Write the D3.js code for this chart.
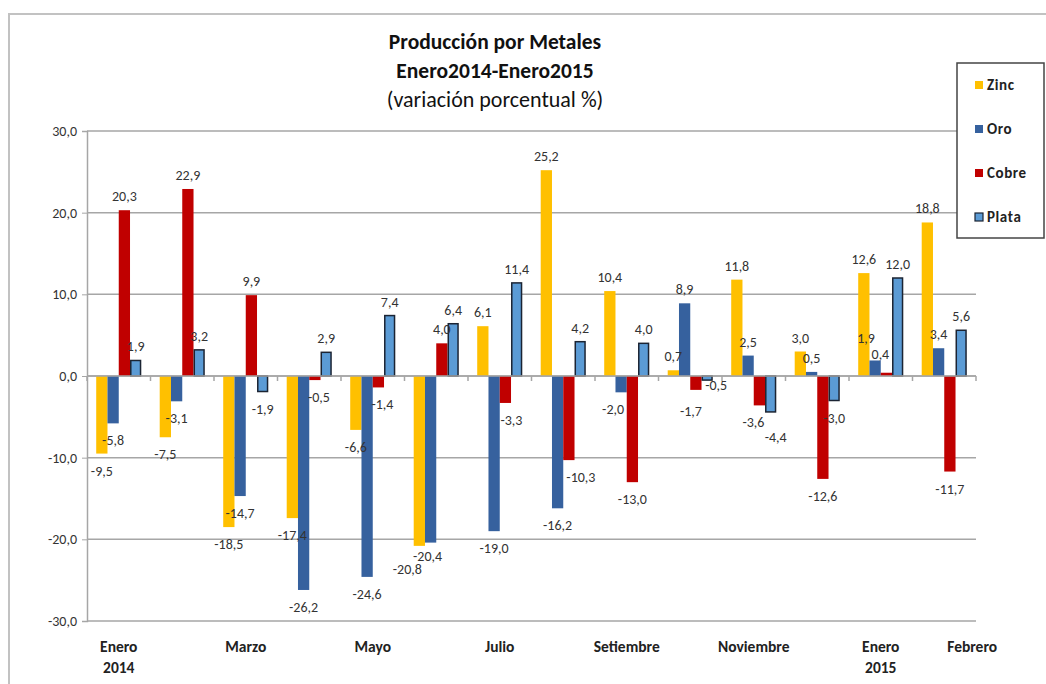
<!DOCTYPE html>
<html lang="es">
<head>
<meta charset="UTF-8">
<title>Producción por Metales</title>
<script src="https://d3js.org/d3.v7.min.js"></script>
<style>
  body { margin: 0; background: #fff; }
  svg { display: block; font-family: Carlito, Lato, 'Open Sans', sans-serif; }
</style>
</head>
<body>
<svg id="chart" width="1046" height="684"></svg>
<script>
// months, Enero 2014 .. Febrero 2015
var months = ["Ene14", "Feb14", "Mar14", "Abr14", "May14", "Jun14", "Jul14",
              "Ago14", "Set14", "Oct14", "Nov14", "Dic14", "Ene15", "Feb15"];
var monthLabels = ["Enero|2014", "", "Marzo", "", "Mayo", "", "Julio",
                   "", "Setiembre", "", "Noviembre", "", "Enero|2015", "Febrero"];
var metals = ["Zinc", "Oro", "Cobre", "Plata"];
var zinc  = [-9.5, -7.5, -18.5, -17.4, -6.6, -20.8, 6.1, 25.2, 10.4, 0.7, 11.8, 3.0, 12.6, 18.8];
var oro   = [-5.8, -3.1, -14.7, -26.2, -24.6, -20.4, -19.0, -16.2, -2.0, 8.9, 2.5, 0.5, 1.9, 3.4];
var cobre = [20.3, 22.9, 9.9, -0.5, -1.4, 4.0, -3.3, -10.3, -13.0, -1.7, -3.6, -12.6, 0.4, -11.7];
var plata = [1.9, 3.2, -1.9, 2.9, 7.4, 6.4, 11.4, 4.2, 4.0, -0.5, -4.4, -3.0, 12.0, 5.6];
var yTicks = [-30, -20, -10, 0, 10, 20, 30];

var series = { Zinc: zinc, Oro: oro, Cobre: cobre, Plata: plata };
var colors = { Zinc: "#FFC000", Oro: "#36619E", Cobre: "#C00000", Plata: "#5B9BD5" };

// a few labels were moved by hand in the original so they don't collide
var nudge = {
  "Jun14|Zinc": [-12, 6], "Jun14|Oro": [-3, -4],
  "Oct14|Cobre": [-5, 4], "Oct14|Plata": [9, -12],
  "Nov14|Cobre": [-6, 0], "Nov14|Plata": [5, 8],
  "Set14|Oro": [-8, 0], "Abr14|Cobre": [4, 0], "May14|Cobre": [4, 0],
  "Jul14|Cobre": [6, 0], "Ago14|Cobre": [12, 0],
  "Ene15|Oro": [-9, -8], "Ene15|Cobre": [-6, -5]
};

var loc = d3.formatLocale({ decimal: ",", thousands: ".", grouping: [3], currency: ["", ""], minus: "-" });
var fmt = loc.format(".1f");

var svg = d3.select("#chart");

// outer frame
svg.append("rect").attr("x", 9).attr("y", 14).attr("width", 1100).attr("height", 700)
  .attr("fill", "none").attr("stroke", "#c2c2c2").attr("stroke-width", 2);

var x0 = d3.scaleBand().domain(months).range([87, 976]).paddingInner(0.29).paddingOuter(0.145);
var x1 = d3.scaleBand().domain(metals).range([0, x0.bandwidth()]);
var y = d3.scaleLinear().domain([-30, 30]).range([621, 131]);

// gridlines
svg.append("g").selectAll("line").data(yTicks).join("line")
  .attr("x1", 87).attr("x2", 976)
  .attr("y1", d => y(d)).attr("y2", d => y(d))
  .attr("stroke", "#a6a6a6").attr("stroke-width", 1.5);

// y axis
var yAxis = d3.axisLeft(y).tickValues(yTicks).tickSize(5).tickFormat(fmt);
var gy = svg.append("g").attr("transform", "translate(87,0)").call(yAxis);
gy.select(".domain").attr("stroke", "#a6a6a6").attr("stroke-width", 1.5);
gy.selectAll(".tick line").attr("stroke", "#a6a6a6");
gy.selectAll(".tick text").attr("font-size", 14).attr("fill", "#333").attr("dx", -2)
  .style("font-family", "Carlito, Lato, sans-serif");

// x ticks at group boundaries on zero line
var bounds = d3.range(months.length + 1).map(i => 87 + i * x0.step());
svg.append("g").selectAll("line").data(bounds).join("line")
  .attr("x1", d => d).attr("x2", d => d)
  .attr("y1", y(0)).attr("y2", y(0) + 5)
  .attr("stroke", "#a6a6a6").attr("stroke-width", 1.5);

// bars
var rows = [];
months.forEach(function (m, i) {
  metals.forEach(function (k) { rows.push({ m: m, k: k, v: series[k][i] }); });
});

svg.append("g").selectAll("rect").data(rows).join("rect")
  .attr("x", d => x0(d.m) + x1(d.k) + (d.k === "Plata" ? 0.75 : 0))
  .attr("width", d => x1.bandwidth() - (d.k === "Plata" ? 1.5 : 0))
  .attr("y", d => y(Math.max(0, d.v)))
  .attr("height", d => Math.abs(y(d.v) - y(0)))
  .attr("fill", d => colors[d.k])
  .attr("stroke", d => d.k === "Plata" ? "#1b2433" : "none")
  .attr("stroke-width", 1.5);

// zero line on top
svg.append("line").attr("x1", 87).attr("x2", 976).attr("y1", y(0)).attr("y2", y(0))
  .attr("stroke", "#a6a6a6").attr("stroke-width", 1.5);

// data labels
function off(d, j) { var n = nudge[d.m + "|" + d.k]; return n ? n[j] : 0; }
svg.append("g").selectAll("text").data(rows).join("text")
  .attr("x", d => x0(d.m) + x1(d.k) + x1.bandwidth() / 2 + off(d, 0))
  .attr("y", d => (d.v >= 0 ? y(d.v) - 9 : y(d.v) + 22) + off(d, 1))
  .attr("text-anchor", "middle")
  .attr("font-size", 14).attr("fill", "#333")
  .text(d => fmt(d.v));

// category labels
var cat = svg.append("g").attr("font-size", 15.5).attr("font-weight", "bold").attr("fill", "#222")
  .attr("text-anchor", "middle");
monthLabels.forEach(function (lab, i) {
  if (!lab) return;
  var cx = x0(months[i]) + x0.bandwidth() / 2;
  if (i === months.length - 1) cx += x0.step() * 0.44;
  lab.split("|").forEach(function (line, j) {
    cat.append("text").attr("x", cx).attr("y", 652 + j * 21).text(line);
  });
});

// title
var title = svg.append("g").attr("text-anchor", "middle").attr("fill", "#111");
title.append("text").attr("x", 495).attr("y", 49).attr("font-size", 21.5).attr("font-weight", "bold")
  .text("Producción por Metales");
title.append("text").attr("x", 495).attr("y", 78).attr("font-size", 21.5).attr("font-weight", "bold")
  .text("Enero2014-Enero2015");
title.append("text").attr("x", 495).attr("y", 107).attr("font-size", 22)
  .text("(variación porcentual %)");

// legend
var lg = svg.append("g");
lg.append("rect").attr("x", 957).attr("y", 63).attr("width", 87).attr("height", 175)
  .attr("fill", "#fff").attr("stroke", "#444").attr("stroke-width", 1.5);
metals.forEach(function (k, i) {
  var ly = 85 + i * 44;
  lg.append("rect").attr("x", 975).attr("y", ly - 4).attr("width", 8).attr("height", 8)
    .attr("fill", colors[k])
    .attr("stroke", k === "Plata" ? "#1b2433" : "none").attr("stroke-width", 1.2);
  lg.append("text").attr("x", 987).attr("y", ly + 5).attr("font-size", 15)
    .attr("letter-spacing", 0.6)
    .attr("font-weight", "bold").attr("fill", "#222").text(k);
});
</script>
</body>
</html>
